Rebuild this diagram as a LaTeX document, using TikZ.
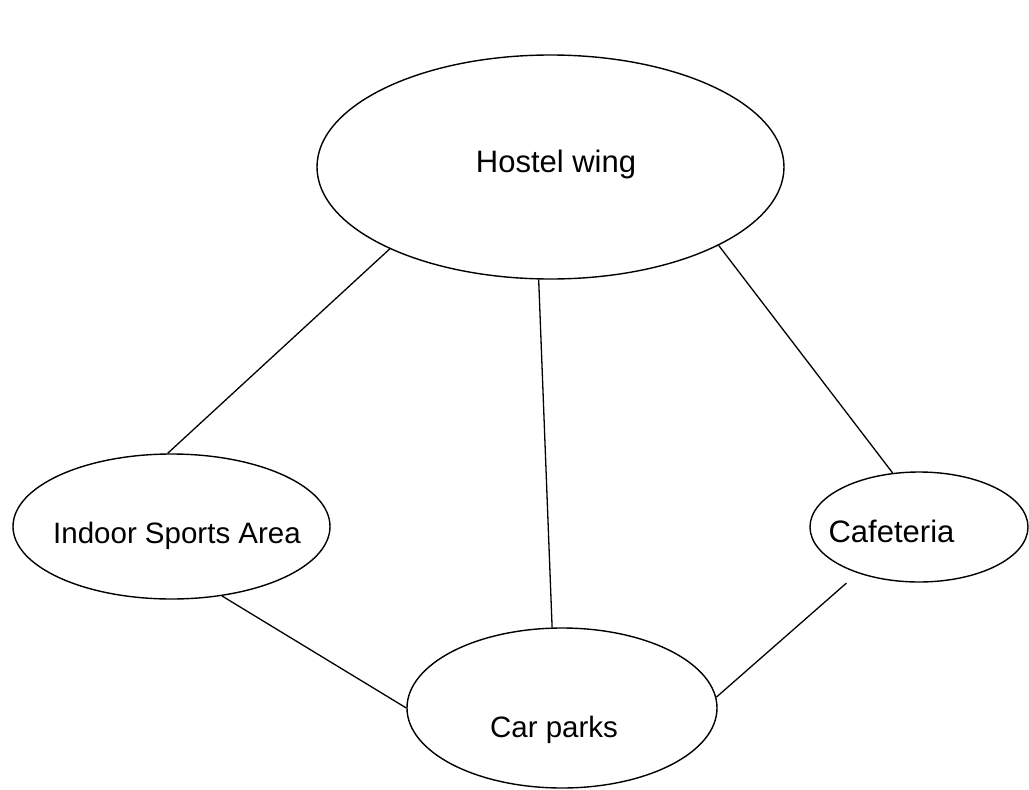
\documentclass[tikz,border=0pt]{standalone}
\usepackage{fontspec}
\setmainfont{Liberation Sans}
\usetikzlibrary{shapes.geometric}
\begin{document}
\begin{tikzpicture}[x=1pt,y=1pt,
  ell/.style={ellipse,draw,line width=1.4pt,inner sep=0pt},
  lbl/.style={anchor=base,inner sep=0pt},
  conn/.style={line width=1.3pt}]
\useasboundingbox (0,0) rectangle (1029,-790);
\node[ell,minimum width=467pt,minimum height=224pt] (hostel) at (550.5,-167) {};
\node[ell,minimum width=317pt,minimum height=145pt] (indoor) at (171.5,-526.5) {};
\node[ell,minimum width=218pt,minimum height=110pt] (cafe) at (919,-527) {};
\node[ell,minimum width=310pt,minimum height=160pt] (car) at (562,-708) {};
\node[lbl,font=\fontsize{31}{36}\selectfont] (hosteltxt) at (556,-172) {Hostel wing};
\node[lbl,font=\fontsize{29.5}{34}\selectfont] (indoortxt) at (177,-543) {Indoor Sports Area};
\node[lbl,font=\fontsize{31}{36}\selectfont] (cafetxt) at (891.5,-542) {Cafeteria};
\node[lbl,font=\fontsize{29.5}{34}\selectfont] (cartxt) at (554,-737) {Car parks};
\draw[conn] (hostel.207.5) -- (indoor.93.6);
\draw[conn] (hostel.264.7) -- (car.97.8);
\draw[conn] (hostel.335.3) -- (cafe.116.1);
\draw[conn] (indoor.306.1) -- (car.180);
\draw[conn,shorten <=15pt] (cafe.217.4) -- (car.4.8);
\end{tikzpicture}
\end{document}
